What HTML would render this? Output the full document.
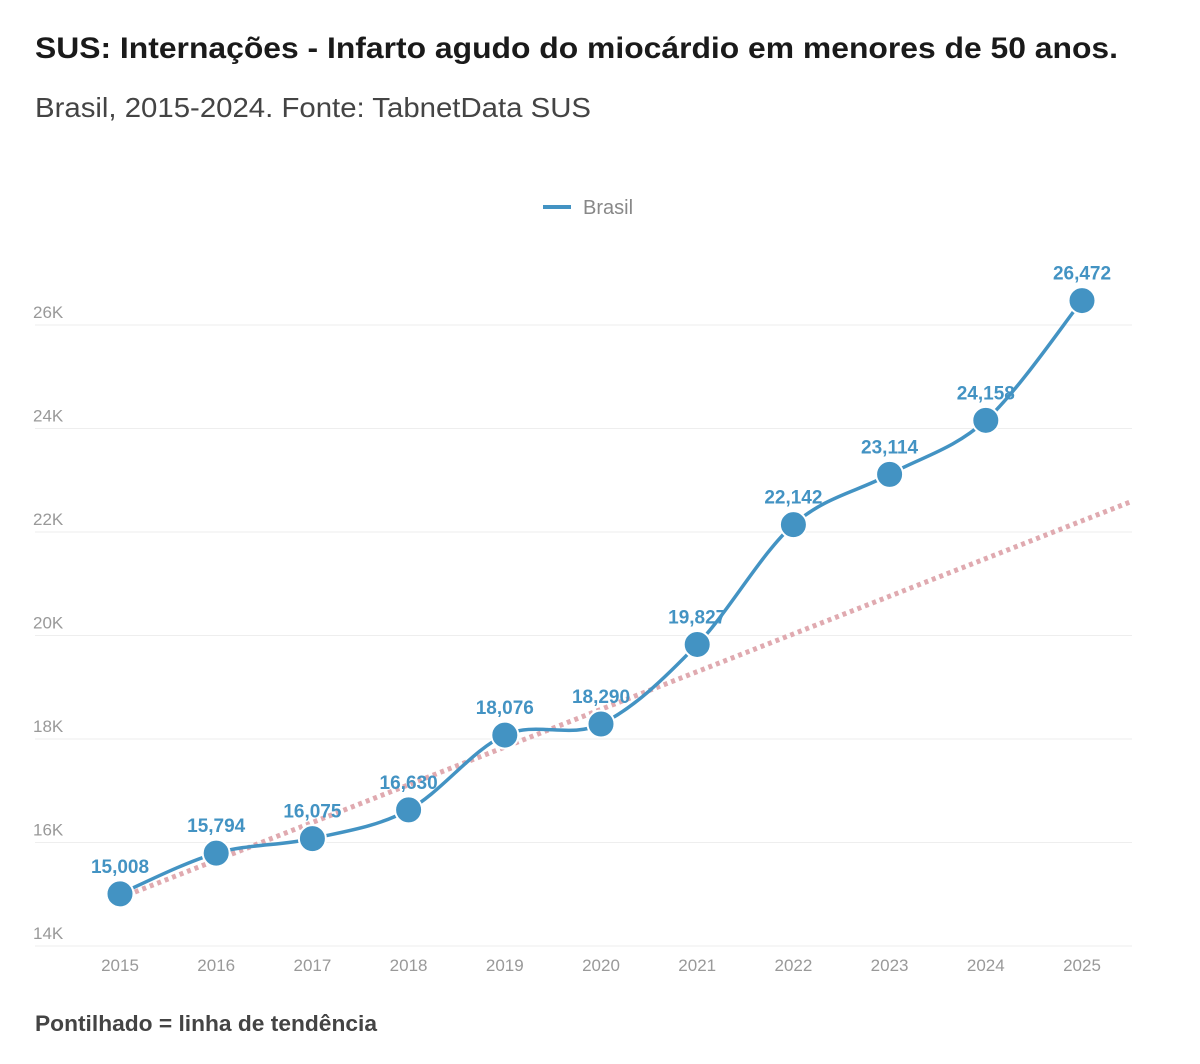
<!DOCTYPE html>
<html><head><meta charset="utf-8">
<style>
body{margin:0;background:#fff;font-family:"Liberation Sans",Roboto,sans-serif;}
svg text{font-family:"Liberation Sans",sans-serif;}
</style></head>
<body>
<svg width="1200" height="1059" viewBox="0 0 1200 1059">
<text x="35" y="58" font-size="30" font-weight="bold" fill="#1a1a1a" textLength="1083" lengthAdjust="spacingAndGlyphs">SUS: Internações - Infarto agudo do miocárdio em menores de 50 anos.</text>
<text x="35" y="117" font-size="28" fill="#444" textLength="556" lengthAdjust="spacingAndGlyphs">Brasil, 2015-2024. Fonte: TabnetData SUS</text>
<g>
<line x1="543" y1="207" x2="571" y2="207" stroke="#4393c3" stroke-width="4"/>
<text x="583" y="214" font-size="20" fill="#888">Brasil</text>
</g>
<g id="grid"></g><g id="trend"></g><g id="series"></g><g id="labels"></g>
<text x="35" y="1031" font-size="22" font-weight="bold" fill="#444" textLength="342" lengthAdjust="spacingAndGlyphs">Pontilhado = linha de tendência</text>
</svg>
<script>
const years=[2015,2016,2017,2018,2019,2020,2021,2022,2023,2024,2025];
const values=[15008,15794,16075,16630,18076,18290,19827,22142,23114,24158,26472];
const yTicks=[14000,16000,18000,20000,22000,24000,26000];
const yTickLabels=["14K","16K","18K","20K","22K","24K","26K"];
const trendStart=[2015,14930];
const trendEnd=[2025.5,22580];
const NS="http://www.w3.org/2000/svg";
const X=i=>120+i*96.2;
const Xy=y=>120+(y-2015)*96.2;
const Y=v=>946-(v-14000)/2000*103.5;
function mk(tag,attrs,parent){const e=document.createElementNS(NS,tag);for(const k in attrs)e.setAttribute(k,attrs[k]);parent.appendChild(e);return e;}
const grid=document.getElementById('grid');
yTicks.forEach((t,i)=>{
 const l=mk('line',{x1:35,x2:1132,y1:Y(t),y2:Y(t),stroke:'#eee','stroke-width':1},grid);
 
 
 const tx=mk('text',{x:33,y:Y(t)-7,'font-size':17,fill:'#999'},grid);tx.textContent=yTickLabels[i];
 
 
});
years.forEach((yr,i)=>{
 const tx=mk('text',{x:X(i),y:971,'font-size':17,fill:'#999','text-anchor':'middle'},grid);tx.textContent=yr;
 
 
});
const tr=mk('line',{x1:Xy(trendStart[0]),y1:Y(trendStart[1]),x2:Xy(trendEnd[0]),y2:Y(trendEnd[1]),stroke:'#e0aab0','stroke-width':5,'stroke-dasharray':'4 4'},document.getElementById('trend'));


const pts=values.map((v,i)=>[X(i),Y(v)]);
let d=`M${pts[0][0]},${pts[0][1]}`;
for(let i=0;i<pts.length-1;i++){
 const p0=pts[Math.max(0,i-1)],p1=pts[i],p2=pts[i+1],p3=pts[Math.min(pts.length-1,i+2)];
 const c1=[p1[0]+(p2[0]-p0[0])/6,p1[1]+(p2[1]-p0[1])/6],c2=[p2[0]-(p3[0]-p1[0])/6,p2[1]-(p3[1]-p1[1])/6];
 d+=` C${c1[0]},${c1[1]} ${c2[0]},${c2[1]} ${p2[0]},${p2[1]}`;
}
const ser=document.getElementById('series');
const ln=mk('path',{d:d,fill:'none',stroke:'#4393c3','stroke-width':3.5},ser);


const lab=document.getElementById('labels');
pts.forEach((p,i)=>{
 const c=mk('circle',{cx:p[0],cy:p[1],r:13.5,fill:'#4393c3',stroke:'#fff','stroke-width':2},ser);
 
 
 const t=mk('text',{x:p[0],y:p[1]-21,'font-size':19,'font-weight':'bold',fill:'#4393c3','text-anchor':'middle'},lab);
 t.textContent=values[i].toLocaleString('en-US');
 
 
});
</script>
</body></html>
